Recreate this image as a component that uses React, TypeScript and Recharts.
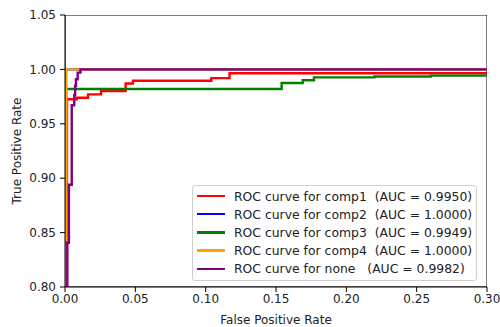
import React from 'react';
import { LineChart, Line, XAxis, YAxis, Legend, ReferenceArea } from 'recharts';

// ROC points (false positive rate / true positive rate)
const comp1Fpr = [0, 0.0014, 0.0083, 0.0164, 0.0256, 0.0431, 0.0483, 0.104, 0.117, 0.3];
const comp1Tpr = [0, 0.9725, 0.974, 0.977, 0.98, 0.987, 0.9896, 0.992, 0.9965, 0.9965];

const comp2Fpr = [0, 0, 0.3];
const comp2Tpr = [0, 1.0, 1.0];

const comp3Fpr = [0, 0.0008, 0.154, 0.169, 0.177, 0.22, 0.26, 0.3];
const comp3Tpr = [0, 0.982, 0.9875, 0.99, 0.9927, 0.9935, 0.9943, 0.995];

const comp4Fpr = [0, 0.001, 0.3];
const comp4Tpr = [0, 1.0, 1.0];

const noneFpr = [0, 0.0016, 0.0028, 0.0048, 0.0066, 0.0072, 0.0078, 0.009, 0.011, 0.3];
const noneTpr = [0, 0.8407, 0.894, 0.967, 0.9765, 0.985, 0.991, 0.997, 1.0, 1.0];

const seriesNames = ['comp1', 'comp2', 'comp3', 'comp4', 'none'];
const aucValues = ['0.9950', '1.0000', '0.9949', '1.0000', '0.9982'];
const seriesColors = ['#ff0000', '#0000ff', '#008000', '#ffa500', '#800080'];

const xTicks = [0, 0.05, 0.1, 0.15, 0.2, 0.25, 0.3];
const yTicks = [0.8, 0.85, 0.9, 0.95, 1.0, 1.05];

const zip = (xs: number[], ys: number[]) => xs.map((x, i) => ({ x, y: ys[i] }));

const series = [
  zip(comp1Fpr, comp1Tpr),
  zip(comp2Fpr, comp2Tpr),
  zip(comp3Fpr, comp3Tpr),
  zip(comp4Fpr, comp4Tpr),
  zip(noneFpr, noneTpr),
];

const FONT = '"DejaVu Sans", sans-serif';
const tickStyle = { fontSize: 12, fill: '#222', fontFamily: FONT };

function legendLabel(i: number) {
  const name = seriesNames[i];
  const gap = name === 'none' ? '   ' : '  ';
  return `ROC curve for ${name}${gap}(AUC = ${aucValues[i]})`;
}

function RocLegend() {
  return (
    <div
      style={{
        border: '1px solid #d0d0d0',
        borderRadius: 3,
        background: 'rgba(255,255,255,0.8)',
        padding: '1px 4px 2px 4px',
        fontFamily: FONT,
        fontSize: 12.4,
        color: '#222',
      }}
    >
      {seriesNames.map((n, i) => (
        <div key={n} style={{ display: 'flex', alignItems: 'center', height: 18.2 }}>
          <span style={{ display: 'inline-block', width: 28, height: 2.4, background: seriesColors[i], marginRight: 9 }} />
          <span style={{ whiteSpace: 'pre' }}>{legendLabel(i)}</span>
        </div>
      ))}
    </div>
  );
}

export default function App() {
  return (
    <div style={{ position: 'absolute', left: 0, top: 0, background: '#fff' }}>
      <LineChart width={500} height={327} margin={{ top: 15, right: 13, left: 0, bottom: 0 }}>
        <XAxis
          dataKey="x"
          type="number"
          domain={[0, 0.3]}
          ticks={xTicks}
          allowDataOverflow
          tickFormatter={(v: number) => v.toFixed(2)}
          tick={tickStyle}
          tickSize={5}
          tickMargin={2}
          height={40}
          stroke="#000"
          label={{
            content: (p: any) => (
              <text
                x={p.viewBox.x + p.viewBox.width / 2}
                y={p.viewBox.y + 37}
                textAnchor="middle"
                fontSize={12}
                fontFamily={FONT}
                fill="#222"
              >
                False Positive Rate
              </text>
            ),
          }}
        />
        <YAxis
          dataKey="y"
          type="number"
          domain={[0.8, 1.05]}
          ticks={yTicks}
          allowDataOverflow
          tickFormatter={(v: number) => v.toFixed(2)}
          tick={tickStyle}
          tickSize={5}
          tickMargin={4}
          width={65}
          stroke="#000"
          label={{
            content: (p: any) => {
              const cx = 17;
              const cy = p.viewBox.y + p.viewBox.height / 2;
              return (
                <text
                  x={cx}
                  y={cy}
                  transform={`rotate(-90 ${cx} ${cy})`}
                  textAnchor="middle"
                  dominantBaseline="central"
                  fontSize={12}
                  fontFamily={FONT}
                  fill="#222"
                >
                  True Positive Rate
                </text>
              );
            },
          }}
        />
        {series.map((d, i) => (
          <Line
            key={seriesNames[i]}
            data={d}
            dataKey="y"
            type="stepAfter"
            stroke={seriesColors[i]}
            strokeWidth={2.4}
            dot={false}
            activeDot={false}
            isAnimationActive={false}
            name={legendLabel(i)}
          />
        ))}
        <ReferenceArea x1={0} x2={0.3} y1={0.8} y2={1.05} fill="none" stroke="#000" strokeWidth={1} ifOverflow="hidden" />
        <Legend
          layout="vertical"
          align="center"
          verticalAlign="middle"
          content={() => <RocLegend />}
          wrapperStyle={{ left: 192, top: 185, width: 'auto' }}
        />
      </LineChart>
    </div>
  );
}
